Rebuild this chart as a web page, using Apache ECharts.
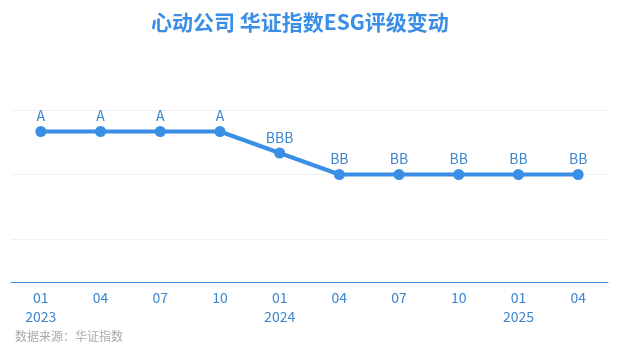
<!DOCTYPE html>
<html><head><meta charset="utf-8">
<script src="https://cdn.jsdelivr.net/npm/echarts@6/dist/echarts.min.js"></script>
<style>html,body{margin:0;padding:0;background:#fff}#c{width:618px;height:355px}</style>
</head><body><div id="c"></div>
<script>
const categories = ['01\n2023','04','07','10','01\n2024','04','07','10','01\n2025','04'];
const ratings = ['A','A','A','A','BBB','BB','BB','BB','BB','BB'];
const ratingScale = {AAA:9, AA:8, A:7, BBB:6, BB:5, B:4, CCC:3, CC:2, C:1};
const values = ratings.map(r => ratingScale[r]);
const title = '心动公司 华证指数ESG评级变动';
const source = '数据来源：华证指数';

const chart = echarts.init(document.getElementById('c'));
const splitColors = ['transparent','transparent','#f0f0f0','transparent','transparent','#f0f0f0','transparent','transparent','#f0f0f0'];
chart.setOption({
  animation:false,
  title:{text:title,left:146,top:7,textStyle:{color:'#3a8ee6',fontSize:21,fontWeight:'bold',fontFamily:'Noto Sans CJK SC'}},
  graphic:[{type:'text',left:15,top:330,style:{text:source,fill:'#aaa',font:'12px "Noto Sans CJK SC"'}}],
  grid:{left:11,right:10,top:110,bottom:73},
  xAxis:{type:'category',data:categories,boundaryGap:true,
    axisLine:{lineStyle:{color:'#3a8ee6'}},
    axisTick:{alignWithLabel:true,length:4,lineStyle:{color:'#3a8ee6'}},
    axisLabel:{color:'#3a86d0',fontSize:14,lineHeight:19,margin:6,fontFamily:'Noto Sans CJK SC'}},
  yAxis:{type:'value',min:0,max:8,interval:1,show:true,
    axisLine:{show:false},axisTick:{show:false},axisLabel:{show:false},
    splitLine:{show:true,lineStyle:{color:splitColors,width:1}}},
  series:[{type:'line',data:values,symbol:'circle',symbolSize:11,
    lineStyle:{color:'#3a8ee6',width:4},itemStyle:{color:'#3a8ee6'},
    label:{show:true,position:'top',distance:3,color:'#3a86d0',fontSize:14,fontFamily:'Noto Sans CJK SC',
      formatter:p=>ratings[p.dataIndex]}}]
});
</script></body></html>
